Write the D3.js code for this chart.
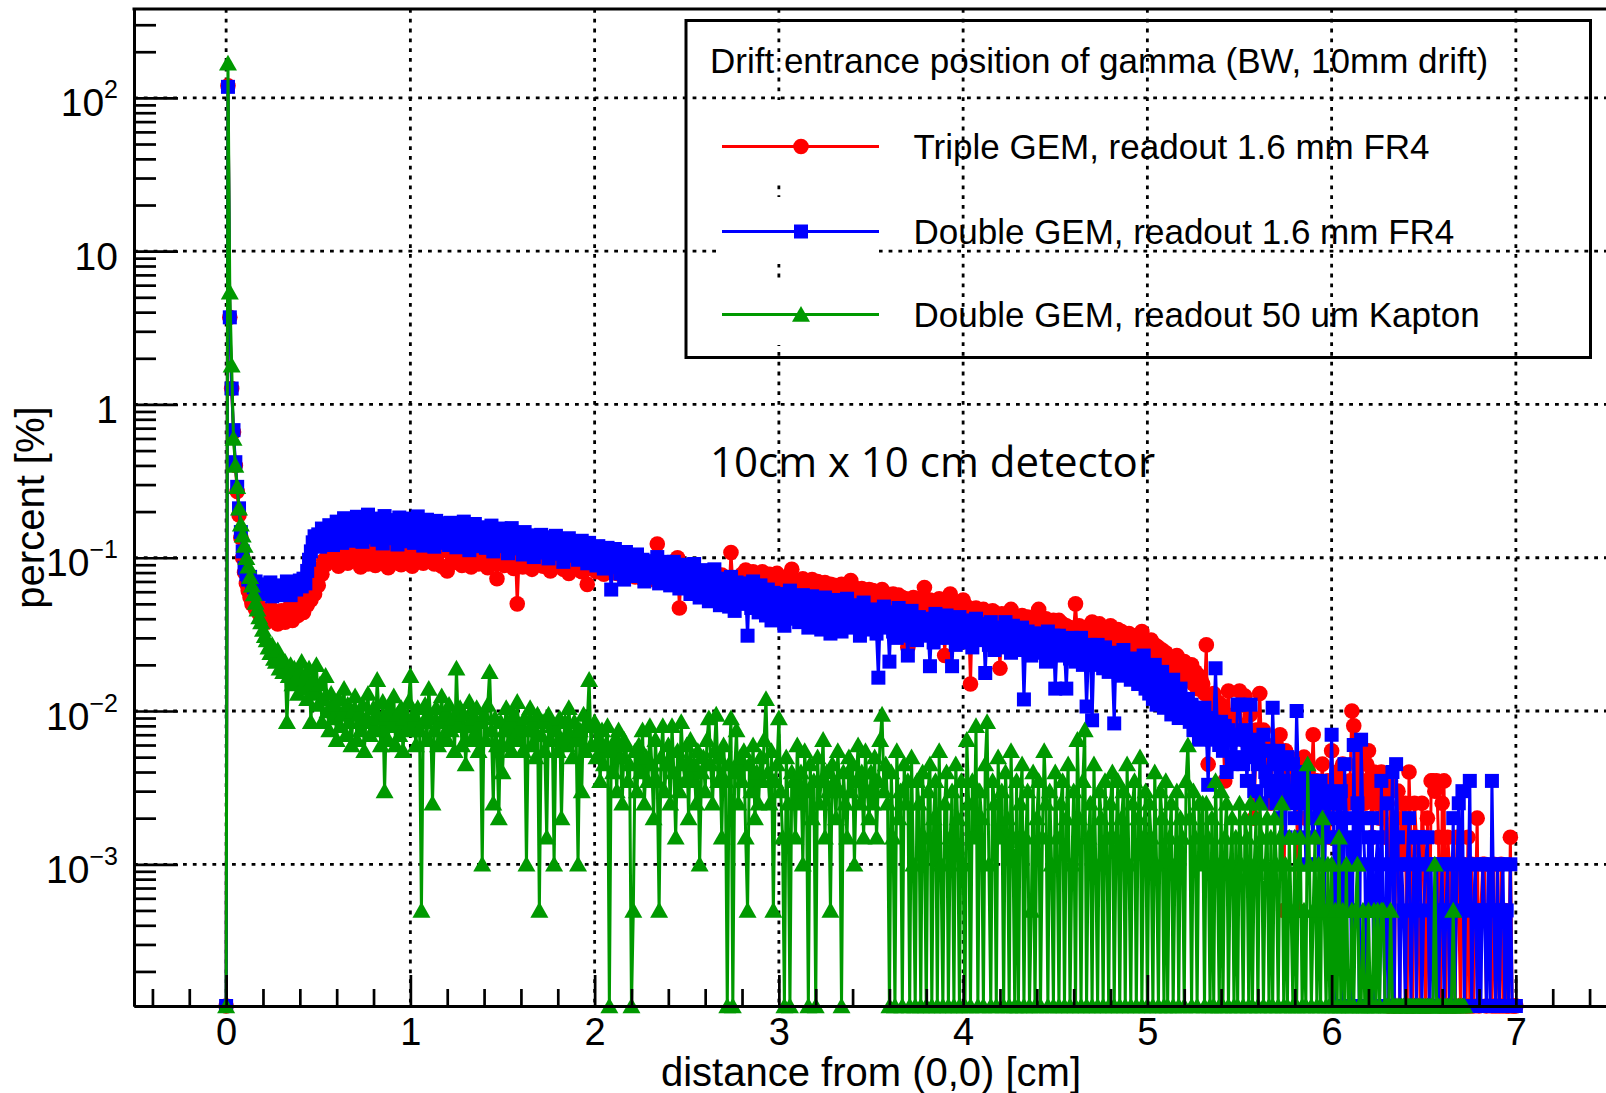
<!DOCTYPE html>
<html><head><meta charset="utf-8">
<script src="https://cdn.jsdelivr.net/npm/d3@7"></script>
<style>body{margin:0;background:#fff;} svg{display:block;}</style>
</head><body><svg id="c" width="1606" height="1093"></svg>
<script>
// ---------------- data (percent per 0.01 cm bin, bin i at x = i*binWidth) ----------------
const binWidth = 0.01;
const tripleFR4 = [
0,120,3.7,1.27,0.66,0.4,0.27,0.19,0.135,0.1,
.08,.068,.061,.055,.05,.053,.046,.049,.043,.047,
.041,.045,.038,.043,.04,.046,.039,.044,.037,.042,
.045,.04,.038,.043,.047,.041,.039,.044,.048,.042,
.046,.051,.044,.056,.049,.06,.053,.064,.058,.072,
.066,.085,.078,.096,.09,.102,.095,.108,.099,.112,
.104,.088,.121,.097,.115,.175,.092,.128,.101,.119,
.13,.095,.112,.087,.124,.105,.138,.091,.116,.099,
.122,.089,.133,.108,.141,.094,.117,.127,.086,.113,
.101,.135,.093,.119,.128,.09,.142,.106,.124,.097,
.118,.088,.131,.103,.125,.096,.137,.092,.114,.123,
.099,.127,.148,.091,.119,.106,.134,.088,.112,.126,
.082,.115,.128,.097,.121,.093,.132,.104,.089,.118,
.111,.094,.125,.087,.117,.102,.13,.091,.109,.122,
.096,.118,.086,.113,.099,.127,.092,.073,.108,.116,
.121,.089,.104,.119,.093,.114,.085,.11,.05,.101,
.112,.087,.117,.095,.106,.124,.084,.103,.115,.091,
.098,.119,.088,.108,.093,.116,.082,.102,.111,.089,
.128,.091,.105,.084,.112,.096,.079,.107,.094,.101,
.087,.104,.093,.081,.1,.09,.067,.098,.085,.095,
.093,.081,.099,.086,.092,.078,.097,.084,.09,.08,
.088,.095,.079,.091,.083,.097,.076,.089,.081,.093,
.082,.09,.075,.087,.079,.094,.073,.085,.078,.089,
.076,.088,.072,.083,.123,.077,.091,.07,.084,.078,
.086,.073,.081,.069,.084,.1,.047,.079,.071,.083,
.074,.065,.08,.071,.077,.063,.082,.069,.075,.066,
.072,.081,.064,.076,.068,.079,.061,.073,.067,.077,
.063,.074,.069,.059,.108,.066,.072,.058,.07,.064,
.078,.068,.083,.073,.077,.064,.081,.071,.075,.066,
.072,.081,.065,.076,.069,.078,.063,.073,.07,.079,
.066,.074,.062,.071,.067,.076,.06,.084,.069,.064,
.071,.059,.067,.073,.063,.07,.057,.066,.072,.06,
.064,.07,.058,.065,.062,.069,.055,.063,.067,.057,
.066,.056,.063,.059,.067,.054,.062,.058,.064,.071,
.058,.064,.054,.061,.057,.063,.051,.06,.055,.062,
.055,.061,.052,.057,.054,.06,.062,.053,.058,.05,
.056,.049,.058,.052,.048,.057,.051,.055,.047,.054,
.026,.052,.047,.055,.05,.046,.054,.049,.045,.064,
.051,.045,.053,.048,.044,.05,.047,.054,.042,.049,
.023,.048,.043,.058,.047,.042,.05,.045,.048,.041,
.053,.044,.048,.04,.015,.046,.041,.047,.039,.045,
.041,.046,.038,.044,.04,.037,.045,.039,.043,.036,
.019,.043,.037,.04,.035,.042,.046,.038,.036,.041,
.038,.035,.042,.037,.033,.041,.036,.04,.034,.037,
.036,.046,.034,.039,.035,.04,.033,.037,.032,.039,
.035,.032,.039,.034,.037,.031,.036,.033,.035,.03,
.034,.05,.032,.036,.033,.031,.035,.03,.034,.032,
.038,.031,.035,.03,.037,.033,.029,.034,.035,.03,
.036,.029,.033,.031,.034,.028,.033,.03,.031,.027,
.032,.028,.031,.027,.031,.025,.029,.033,.027,.025,
.028,.026,.029,.024,.027,.023,.026,.022,.025,.023,
.024,.02,.022,.019,.021,.018,.023,.017,.02,.019,
.021,.017,.019,.016,.02,.015,.018,.014,.017,.016,
.015,.013,.027,.0045,.012,.0105,.013,.0095,.0115,.009,
.011,.008,.0035,.0095,.0135,.0075,.009,.0065,.0085,.007,
.0135,.008,.0065,.0125,.007,.0055,.0095,.006,.002,.0075,
.0065,.013,.0055,.0075,.0045,.006,.0035,.0025,.0055,.005,
.006,.0045,.007,.004,.0005,.0055,.0035,.005,.003,.0045,
.004,.0025,.0005,.0045,.0035,.005,.002,.004,.003,.0035,
.007,.0025,.0035,.0015,.003,.0045,.002,.0025,.0035,.0015,
.0055,.003,.0025,.004,.0015,.0035,.0045,.002,.003,.0025,
.0035,.01,.008,.003,.0045,.002,.0055,.0035,.0025,.0045,
.0055,.003,.0015,.004,.0025,.0035,.002,.004,.003,.0015,
.0025,0,.0035,.0015,0,.002,.003,0,.0025,.001,
.0025,0,.004,.0015,0,.0025,.0015,.001,0,.0025,
.0015,0,.002,0,.0035,.0035,.003,.0035,.0015,0,
.0025,.0035,0,.0015,.001,0,.0005,0,.0015,.0005,
0,.001,.0005,0,.0015,0,.001,0,.0005,.002,
0,.0005,.001,.001,0,.0005,.0005,0,.001,0,
.0005,0,.001,0,.0005,0,0,.0015,0,0,
0];
const doubleFR4 = [
0,118,3.7,1.27,0.68,0.42,0.29,0.21,0.147,0.11,
.086,.078,.072,.075,.068,.064,.07,.062,.066,.059,
.063,.067,.058,.061,.069,.056,.062,.065,.057,.06,
.066,.059,.063,.07,.061,.057,.064,.068,.062,.066,
.071,.065,.073,.068,.082,.097,.11,.126,.138,.131,
.142,.118,.155,.13,.149,.124,.163,.138,.121,.158,
.172,.138,.16,.125,.181,.146,.133,.168,.152,.129,
.161,.185,.14,.172,.127,.178,.155,.191,.136,.166,
.149,.18,.131,.174,.158,.124,.187,.145,.17,.137,
.176,.134,.162,.122,.183,.15,.128,.171,.142,.18,
.138,.173,.125,.158,.186,.133,.165,.12,.152,.177,
.131,.162,.145,.118,.174,.139,.155,.125,.168,.142,
.157,.121,.169,.136,.148,.117,.163,.141,.126,.172,
.128,.155,.112,.149,.137,.166,.119,.145,.13,.158,
.141,.116,.153,.127,.162,.11,.146,.133,.121,.155,
.119,.149,.128,.107,.142,.156,.115,.137,.124,.145,
.134,.105,.147,.121,.113,.14,.127,.101,.138,.116,
.125,.141,.108,.132,.118,.099,.136,.121,.112,.139,
.106,.131,.117,.094,.128,.112,.134,.103,.121,.109,
.123,.097,.116,.129,.104,.111,.092,.125,.101,.115,
.108,.089,.119,.098,.112,.085,.104,.116,.093,.062,
.101,.114,.087,.106,.079,.098,.072,.109,.088,.103,
.084,.099,.076,.105,.091,.08,.097,.07,.093,.086,
.095,.074,.089,.082,.101,.068,.087,.079,.094,.071,
.088,.066,.083,.094,.072,.081,.063,.09,.075,.085,
.069,.086,.058,.078,.091,.064,.08,.055,.074,.083,
.061,.079,.052,.071,.066,.084,.056,.073,.049,.068,
.072,.054,.066,.048,.075,.061,.045,.069,.057,.064,
.05,.068,.058,.031,.063,.047,.07,.053,.06,.044,
.066,.049,.057,.042,.062,.052,.039,.059,.046,.055,
.043,.058,.05,.036,.055,.047,.061,.04,.052,.045,
.054,.038,.049,.057,.041,.051,.035,.047,.056,.043,
.039,.052,.044,.034,.049,.055,.037,.046,.032,.05,
.047,.036,.053,.041,.033,.048,.043,.054,.038,.045,
.035,.049,.04,.046,.031,.044,.051,.037,.042,.034,
.046,.036,.041,.032,.0165,.043,.035,.048,.038,.04,
.021,.044,.033,.039,.03,.047,.036,.031,.042,.034,
.023,.039,.045,.032,.036,.029,.041,.034,.038,.031,
.04,.033,.0196,.037,.028,.043,.035,.03,.039,.032,
.036,.042,.03,.034,.0196,.038,.027,.035,.041,.031,
.033,.028,.039,.031,.036,.026,.034,.04,.029,.035,
.03,.037,.0177,.033,.027,.038,.031,.025,.035,.029,
.034,.026,.032,.038,.028,.031,.024,.036,.029,.027,
.031,.025,.035,.0119,.029,.033,.027,.023,.032,.028,
.026,.032,.024,.03,.027,.021,.033,.028,.025,.031,
.014,.027,.031,.023,.029,.025,.014,.028,.022,.03,
.025,.021,.028,.024,.03,.02,.026,.0107,.023,.027,
.0087,.024,.02,.027,.022,.025,.019,.026,.021,.018,
.023,.019,.0083,.024,.02,.022,.017,.025,.019,.021,
.02,.016,.022,.018,.021,.015,.02,.017,.023,.014,
.019,.013,.017,.012,.02,.011,.016,.0125,.018,.0105,
.015,.011,.0145,.0095,.016,.0105,.013,.009,.014,.0105,
.0115,.0095,.012,.0085,.011,.0075,.0105,.009,.0065,.0095,
.0085,.0105,.007,.0033,.009,.0065,.0085,.019,.0075,.006,
.0085,.0055,.008,.004,.0075,.0065,.0045,.007,.005,.011,
.011,.0065,.0045,.0075,.0035,.006,.011,.005,.003,.0065,
.0045,.0055,.0025,.007,.004,.0035,.0055,.003,.0105,.0045,
.0025,.0055,.002,.0045,.0035,.0015,.005,.003,.0025,.0045,
.002,.01,.0035,.0015,.003,.004,.001,.0025,.0035,.002,
.0015,.003,.0025,.001,.0035,.002,.0005,.003,.0015,.0025,
.007,.002,0,.0025,.0015,.003,0,.0045,.002,.0005,
.0015,0,.006,.001,.0025,0,.0065,.002,.001,0,
.0015,.0005,.002,0,.001,.0015,0,.0035,.0005,0,
.0025,0,.001,.004,0,.0045,.0015,0,.001,.0005,
0,.001,.002,0,.0005,.0015,0,.0015,.001,0,
.0005,.001,.0015,0,.001,0,.0005,.001,0,.0005,
.001,0,.0005,.001,0,.0005,.002,0,.001,.0025,
.0005,.003,0,.001,.0005,.0035,0,.0005,.001,0,
.0005,0,.001,.0005,0,.001,0,.0035,.0005,0,
.001,0,.0005,.001,0,.0005,0,.001,0,0,
0];
const doubleKapton = [
0,168,5.4,1.8,0.6,0.4,0.29,0.21,0.165,0.14,
.12,.1,.088,.075,.066,.058,.051,.046,.041,.038,
.034,.031,.029,.026,.024,.027,.022,.021,.025,.019,
.022,.018,.021,.0085,.017,.02,.015,.019,.016,.013,
.018,.021,.014,.017,.012,.019,.0085,.016,.013,.02,
.011,.015,.0085,.012,.017,.01,.0075,.013,.009,.011,
.0065,.012,.008,.0095,.014,.007,.011,.0085,.006,.01,
.0125,.0065,.0095,.0075,.011,.0055,.009,.013,.007,.0085,
.0105,.0075,.016,.009,.006,.0115,.003,.0095,.0065,.0105,
.008,.0125,.006,.0095,.007,.0105,.0055,.009,.0075,.0115,
.017,.008,.0095,.006,.0105,.0075,.0005,.0085,.011,.0065,
.014,.009,.0025,.0075,.0105,.006,.0085,.0125,.007,.0095,
.0065,.011,.0075,.009,.0055,.019,.008,.0105,.006,.0095,
.0045,.008,.0115,.0065,.009,.007,.0105,.0055,.0085,.001,
.0095,.0065,.011,.018,.0075,.0025,.009,.006,.002,.0085,
.004,.0075,.0105,.006,.0085,.0055,.0095,.007,.0115,.0065,
.008,.0055,.009,.001,.0075,.0105,.006,.0085,.005,.0095,
.0005,.007,.0085,.0055,.0015,.0095,.0065,.008,.001,.0075,
.0055,.009,.002,.0065,.0085,.006,.0105,.007,.005,.0085,
.0065,.001,.0075,.003,.0095,.0055,.0085,.016,.006,.008,
.0085,.005,.0065,.0035,.0075,.0045,.006,.008,0,.0055,
.004,.0065,.003,.0075,.005,.0025,.0065,.006,.0035,.0045,
0,.0005,.0055,.003,.006,.004,.0075,.0025,.005,.0035,
.008,.0045,.002,.0065,.0035,.0005,.005,.008,.003,.0045,
.006,.0025,.008,.004,.0015,.0055,.003,.0085,.0045,.0035,
.006,.002,.0065,.0035,.0045,.0025,.0055,.001,.004,.005,
.003,.0065,.009,.0045,.0025,.0055,.0095,.0035,.005,.0015,
.006,.0035,0,.0045,.009,0,.004,.0075,.0025,.005,
.0035,.0055,.0015,.0005,.0045,.003,.006,.002,.004,.0025,
.005,.0035,.0065,.012,.004,.0025,.0055,.0005,.0035,.0045,
.009,.003,.0015,0,.005,.0025,0,.004,.0035,.0015,
.006,.0025,.004,.001,.0055,.003,0,.0045,.002,.0035,
0,.005,.0025,.0035,.0065,.0015,.004,.003,.0005,.0045,
.0035,.002,.0055,.003,0,.004,.0025,.0015,.005,.003,
.0045,.001,.0035,.006,.0025,.004,.0015,.0055,.003,.002,
.004,.0025,.005,.0015,.0035,.0065,.0095,.003,.0045,.0025,
0,.004,.0015,0,.0055,.002,.003,0,.0045,.0025,
.0035,0,.005,.001,0,.0035,.0025,0,.004,.0015,
0,.003,.0045,0,.002,.0035,0,.0055,.001,0,
.0025,.004,0,.0015,.003,0,.0045,.002,0,.0035,
.001,0,.0065,.0025,0,.0035,.0015,.008,0,.003,
.002,0,.0045,.0085,.001,0,.0035,.0025,0,.005,
.0015,.003,0,.004,.002,0,.0055,.0015,0,.0035,
0,.0025,.0045,0,.0015,.003,0,.0005,.004,0,
.002,.0035,0,.0015,.0055,.0025,0,.003,.001,0,
.004,.0015,0,.0025,.0035,0,.002,.0045,0,.001,
.003,0,.0065,.002,0,.0035,.0075,0,.0015,.0025,
0,.0045,.001,0,.003,.002,0,.0035,.0015,0,
.0025,.004,0,.0015,.0035,0,.002,.003,0,.0045,
.001,0,.0025,.0035,0,.002,.005,0,.0015,.003,
0,.0025,.0015,0,.004,.001,0,.003,.002,0,
.0035,0,.0015,.0025,0,.001,.003,0,.002,.0015,
0,.0035,.006,.002,0,.003,.0015,0,.0025,.001,
.0025,0,.0025,.0015,0,.002,0,.0035,.001,0,
.003,0,.0015,.0025,0,.001,.002,0,.0015,0,
.0025,.001,0,.002,.0015,0,.0025,0,.001,.002,
0,.0025,.0015,0,.001,.002,0,.0015,0,.002,
.001,0,.0015,.0025,0,.001,0,.0015,.0005,0,
.0015,0,.001,.0015,0,.0005,0,.0045,.001,0,
.0005,.0015,0,.001,0,.002,.0005,0,.001,0,
.001,0,.0005,0,.0015,0,.0005,0,.001,0,
0,.0005,0,.0005,.001,0,0,.0005,0,0,
.0005,0,0,.0005,0,.0005,0,.0005,.0005,0,
0,0,.0005,0,0,0,0,0,0,0,
0,0,0,0,0,0,0,0,0,0,
0,0,0,0,0,0,.001,0,0,0,
0,0,0,0,0,0,.0005,0,0,0,
0,0,0];

const seriesNames = ["Triple GEM, readout 1.6 mm FR4", "Double GEM, readout 1.6 mm FR4", "Double GEM, readout 50 um Kapton"];
const seriesColors = ["#ff0000", "#0000ff", "#009900"];
const seriesMarkers = ["circle", "square", "triangle"];
const legendHeader = "Drift entrance position of gamma (BW, 10mm drift)";
const xTickValues = [0, 1, 2, 3, 4, 5, 6, 7];
const xTickLabels = ["0", "1", "2", "3", "4", "5", "6", "7"];
const yTickValues = [1e-3, 1e-2, 1e-1, 1, 10, 100];
const yTickBase = ["10", "10", "10", "1", "10", "10"];
const yTickSup = ["\u22123", "\u22122", "\u22121", "", "", "2"];
const xTitle = "distance from (0,0) [cm]";
const yTitle = "percent [%]";
const annotation = "10cm x 10 cm detector";

// ---------------- layout ----------------
const FX0 = 134, FX1 = 1608, FY0 = 9, FY1 = 1006;
const svg = d3.select("#c");
const x = d3.scaleLinear().domain([-0.5, 7.5]).range([FX0, FX1]);
const y = d3.scaleLog().domain([1.19e-4, 380]).range([FY1, FY0]).clamp(true);
const yv = v => v > 0 ? y(v) : FY1;
const FONT = "'Liberation Sans', Arial, Helvetica, sans-serif";

// grid
const grid = svg.append("g").attr("stroke", "#000").attr("stroke-width", 2.8)
  .attr("stroke-dasharray", "3.8,6").attr("fill", "none");
grid.selectAll("line.v").data(xTickValues).join("line").attr("class", "v")
  .attr("x1", d => x(d)).attr("x2", d => x(d)).attr("y1", FY0).attr("y2", FY1);
grid.selectAll("line.h").data(yTickValues).join("line").attr("class", "h")
  .attr("x1", FX0).attr("x2", FX1).attr("y1", d => y(d)).attr("y2", d => y(d));

// markers (ROOT full circle / full square / full triangle)
function marker(sel, type, color) {
  if (type === "circle") sel.append("circle").attr("r", 7.8).attr("fill", color);
  else if (type === "square") sel.append("rect").attr("x", -7).attr("y", -7).attr("width", 14).attr("height", 14).attr("fill", color);
  else sel.append("path").attr("d", "M0,-8.6L9,7.2L-9,7.2Z").attr("fill", color);
}

// series
const allSeries = [tripleFR4, doubleFR4, doubleKapton];
const line = d3.line().x((d, i) => x(i * binWidth)).y(d => yv(d));
allSeries.forEach((vals, k) => {
  const g = svg.append("g");
  g.append("path").attr("d", line(vals)).attr("fill", "none")
    .attr("stroke", seriesColors[k]).attr("stroke-width", 3).attr("stroke-linejoin", "round");
  const pts = g.selectAll("g.m").data(vals).join("g")
    .attr("transform", (d, i) => `translate(${x(i * binWidth)},${yv(d)})`);
  pts.each(function () { marker(d3.select(this), seriesMarkers[k], seriesColors[k]); });
});

// axes
const xMinor = d3.range(-0.4, 7.45, 0.2).map(v => Math.round(v * 10) / 10).filter(v => Math.abs(v - Math.round(v)) > 1e-6);
const yMinor = [];
for (let e = -4; e <= 2; e++) for (let m = 2; m <= 9; m++) { const v = m * Math.pow(10, e); if (v > 1.19e-4 && v < 380) yMinor.push(v); }

const gx = svg.append("g").attr("transform", `translate(0,${FY1})`)
  .call(d3.axisBottom(x).tickValues(xTickValues).tickFormat((d, i) => xTickLabels[i]).tickSize(-31).tickSizeOuter(0).tickPadding(12));
const gxm = svg.append("g").attr("transform", `translate(0,${FY1})`)
  .call(d3.axisBottom(x).tickValues(xMinor).tickFormat("").tickSize(-17).tickSizeOuter(0));
const gy = svg.append("g").attr("transform", `translate(${FX0},0)`)
  .call(d3.axisLeft(y).tickValues(yTickValues).tickFormat("").tickSize(-44).tickSizeOuter(0));
const gym = svg.append("g").attr("transform", `translate(${FX0},0)`)
  .call(d3.axisLeft(y).tickValues(yMinor).tickFormat("").tickSize(-22).tickSizeOuter(0));
[gx, gxm, gy, gym].forEach(g => {
  g.selectAll("path.domain").attr("stroke", "#000").attr("stroke-width", 3);
  g.selectAll(".tick line").attr("stroke", "#000").attr("stroke-width", 2.7);
});
gx.selectAll(".tick text").attr("font-family", FONT).attr("font-size", 38).attr("fill", "#000");
// top and right frame lines
svg.append("line").attr("x1", FX0 - 1.5).attr("x2", FX1).attr("y1", FY0).attr("y2", FY0).attr("stroke", "#000").attr("stroke-width", 3);
svg.append("line").attr("x1", FX1).attr("x2", FX1).attr("y1", FY0).attr("y2", FY1).attr("stroke", "#000").attr("stroke-width", 3);

// y tick labels with superscripts
yTickValues.forEach((v, i) => {
  const t = svg.append("text").attr("x", 118).attr("y", y(v) + 18.5)
    .attr("text-anchor", "end").attr("font-family", FONT).attr("font-size", 39).attr("fill", "#000");
  t.append("tspan").text(yTickBase[i]);
  if (yTickSup[i]) t.append("tspan").attr("dy", -18).attr("font-size", 25).text(yTickSup[i]);
});

// axis titles
svg.append("text").attr("x", (FX0 + FX1) / 2).attr("y", 1086).attr("text-anchor", "middle")
  .attr("font-family", FONT).attr("font-size", 40).text(xTitle);
svg.append("text").attr("transform", `translate(44,${(FY0 + FY1) / 2}) rotate(-90)`).attr("text-anchor", "middle")
  .attr("font-family", FONT).attr("font-size", 40).text(yTitle);

// legend
const LX0 = 686, LY0 = 20.5, LX1 = 1590.5, LY1 = 357.5;
const entryY = [146.5, 231.5, 314.5];
const entryBox = [[100, 182], [197, 264], [282, 345]];
const lg = svg.append("g");
entryBox.forEach(b => lg.append("rect").attr("x", 722).attr("y", b[0]).attr("width", 157).attr("height", b[1] - b[0]).attr("fill", "#fff"));
lg.append("rect").attr("x", LX0).attr("y", LY0).attr("width", LX1 - LX0).attr("height", LY1 - LY0)
  .attr("fill", "none").attr("stroke", "#000").attr("stroke-width", 3);
lg.append("text").attr("x", 710).attr("y", 72.5).attr("font-family", FONT).attr("font-size", 35).text(legendHeader);
seriesNames.forEach((n, k) => {
  lg.append("line").attr("x1", 722).attr("x2", 879).attr("y1", entryY[k]).attr("y2", entryY[k])
    .attr("stroke", seriesColors[k]).attr("stroke-width", 3.2);
  marker(lg.append("g").attr("transform", `translate(801,${entryY[k]})`), seriesMarkers[k], seriesColors[k]);
  lg.append("text").attr("x", 913.5).attr("y", entryY[k] + 12.3).attr("font-family", FONT).attr("font-size", 35).text(n);
});

// annotation
svg.append("text").attr("x", 710).attr("y", 477).attr("font-family", "'Open Sans', 'Noto Sans', sans-serif")
  .attr("font-size", 42).attr("fill", "#000").text(annotation);
</script>
</body></html>
